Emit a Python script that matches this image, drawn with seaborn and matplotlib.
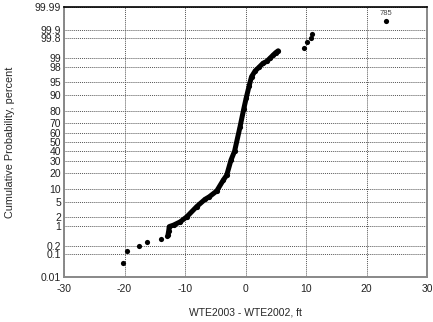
"""Normal probability plot of water-level change (WTE2003 - WTE2002)."""
from statistics import NormalDist

import matplotlib
matplotlib.use("Agg")
import matplotlib.pyplot as plt
import numpy as np
import pandas as pd
import seaborn as sns

# dense part of the distribution
curve_change = [-12.8, -12.7, -12.6, -11.9, -10.8, -9.7, -8.07, -6.7, -6.0, -4.76,
                -3.67, -3.1, -2.4, -1.8, -0.9, -0.3, 0.1, 0.6, 1.0, 1.6,
                2.2, 2.9, 3.5, 4.0, 4.6, 5.0, 5.4]
curve_pct = [0.54, 0.71, 0.99, 1.1, 1.39, 1.97, 3.75, 5.7, 6.55, 8.85,
             14.7, 18.1, 30.9, 40.1, 66.3, 81.6, 88.5, 93.9, 96.4, 97.5,
             98.0, 98.5, 98.68, 98.93, 99.18, 99.31, 99.40]

# isolated points in the tails
tail_change = [-20.3, -19.6, -17.55, -16.3, -14.0, -13.0, 9.67, 10.2, 10.8, 11.0, 23.2]
tail_pct = [0.043, 0.135, 0.21, 0.30, 0.39, 0.48, 99.53, 99.70, 99.79, 99.86, 99.957]

outlier_label = "785"
prob_ticks = [0.01, 0.1, 0.2, 1, 2, 5, 10, 20, 30, 40, 50, 60, 70, 80, 90, 95, 98, 99,
              99.8, 99.9, 99.99]
prob_labels = ["0.01", "0.1", "0.2", "1", "2", "5", "10", "20", "30", "40", "50", "60",
               "70", "80", "90", "95", "98", "99", "99.8", "99.9", "99.99"]
x_ticks = [-30, -20, -10, 0, 10, 20, 30]

nd = NormalDist()


def to_z(pct):
    return [nd.inv_cdf(p / 100.0) for p in pct]


curve = pd.DataFrame({"change": curve_change, "z": to_z(curve_pct)})
tails = pd.DataFrame({"change": tail_change, "z": to_z(tail_pct)})

sns.set_theme(style="white")
plt.rcParams["font.family"] = ["Liberation Sans", "DejaVu Sans"]

fig = plt.figure(figsize=(4.33, 3.22), dpi=100)
ax = fig.add_axes([64 / 433, 45 / 322, 363 / 433, 270 / 322])

sns.lineplot(data=curve, x="change", y="z", sort=False, color="black", lw=3.6,
             solid_capstyle="round", ax=ax)
sns.scatterplot(data=curve, x="change", y="z", color="black", s=14, linewidth=0, ax=ax)
sns.scatterplot(data=tails, x="change", y="z", color="black", s=14, linewidth=0, ax=ax)

out = tails.iloc[-1]
ax.text(out["change"], out["z"] + 0.12, outlier_label, fontsize=5.5, color="#444444",
        ha="center", va="bottom")

ax.set_xlim(-30, 30)
ax.set_ylim(nd.inv_cdf(0.0001), nd.inv_cdf(0.9999))
ax.set_xticks(x_ticks)
ax.set_xticklabels([str(t) for t in x_ticks])
ax.set_yticks(to_z(prob_ticks))
ax.set_yticklabels(prob_labels)
ax.tick_params(axis="both", length=0, labelsize=7.5, colors="#222222")
ax.tick_params(axis="x", pad=5)
ax.tick_params(axis="y", pad=2)
ax.grid(True, color="#555555", linestyle=(0, (1, 1)), linewidth=0.7)

for side in ["left", "bottom", "right"]:
    ax.spines[side].set_color("#888888")
    ax.spines[side].set_linewidth(1.4)
ax.spines["right"].set_linestyle((0, (1, 1)))
ax.spines["top"].set_color("black")
ax.spines["top"].set_linewidth(1.2)

ax.set_xlabel("WTE2003 - WTE2002, ft", fontsize=7.5, labelpad=10)
ax.set_ylabel("Cumulative Probability, percent", fontsize=7.8, labelpad=14)

fig.savefig("out.png", dpi=100)
plt.close(fig)
